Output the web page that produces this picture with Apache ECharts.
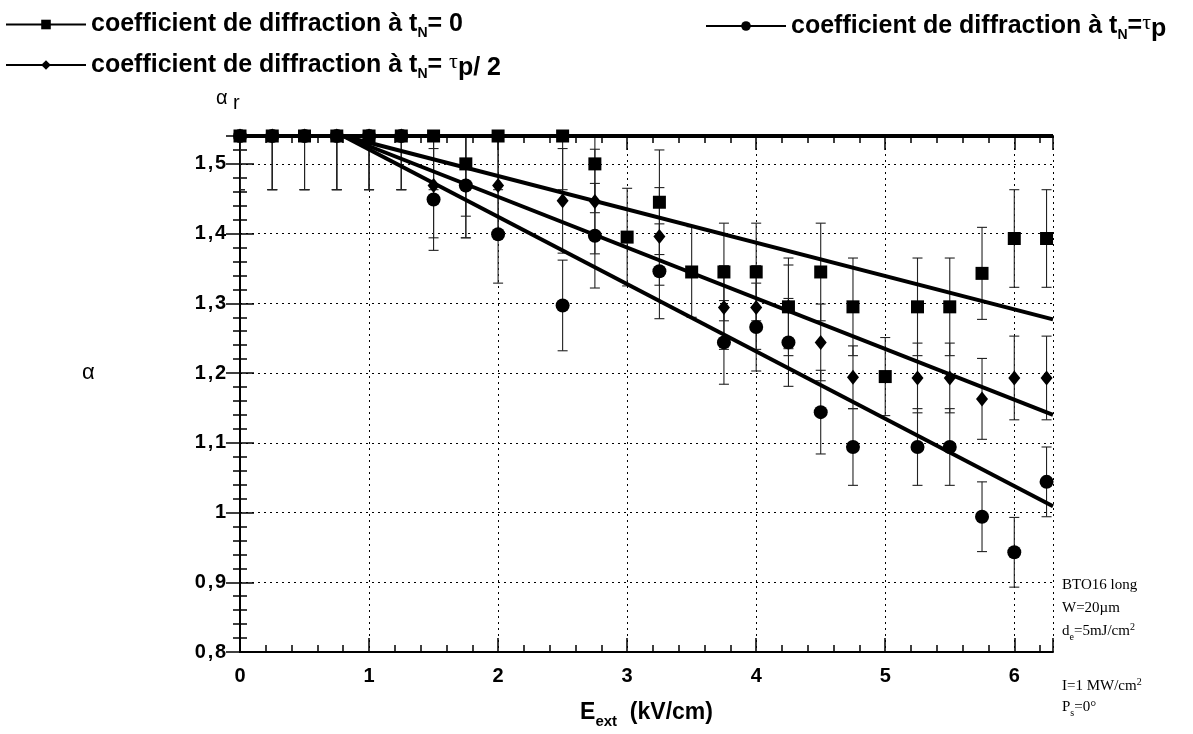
<!DOCTYPE html>
<html>
<head>
<meta charset="utf-8">
<script src="https://cdn.jsdelivr.net/npm/echarts@6/dist/echarts.min.js"></script>
<style>
html,body{margin:0;padding:0;background:#fff;}
#chart{width:1193px;height:734px;}
</style>
</head>
<body>
<div id="chart"></div>
<script>
// ---- data ----
const xs = [0,0.25,0.5,0.75,1,1.25,1.5,1.75,2,2.5,2.75,3,3.25,3.5,3.75,4,4.25,4.5,4.75,5,5.25,5.5,5.75,6,6.25];
// t_N = 0 (squares)
const sqVals = [1.54,1.54,1.54,1.54,1.54,1.54,1.54,1.5,1.54,1.54,1.5,1.395,1.445,1.345,1.345,1.345,1.295,1.345,1.295,1.195,1.295,1.295,1.343,1.393,1.393];
const sqErr  = [0.077,0.077,0.077,0.077,0.077,0.077,0.077,0.075,0.077,0.077,0.07,0.07,0.075,0.065,0.07,0.07,0.07,0.07,0.07,0.056,0.07,0.07,0.066,0.07,0.07];
// t_N = tau_p / 2 (diamonds)
const diVals = [1.54,1.54,1.54,1.54,1.54,1.54,1.469,1.469,1.469,1.447,1.446,null,1.396,null,1.294,1.294,1.295,1.244,1.194,null,1.193,1.193,1.163,1.193,1.193];
const diErr  = [0.077,0.077,0.077,0.077,0.077,0.077,0.075,0.075,0.075,0.075,0.075,null,0.07,null,0.06,0.06,0.06,0.055,0.045,null,0.05,0.05,0.058,0.06,0.06];
// t_N = tau_p (circles)
const ciVals = [1.54,1.54,1.54,1.54,1.54,1.54,1.449,1.469,1.399,1.297,1.397,null,1.346,null,1.244,1.266,1.244,1.144,1.094,null,1.094,1.094,0.994,0.943,1.044];
const ciErr  = [0.077,0.077,0.077,0.077,0.077,0.077,0.073,0.075,0.07,0.065,0.075,null,0.068,null,0.06,0.063,0.063,0.06,0.055,null,0.055,0.055,0.05,0.05,0.05];
// fitted lines
const fitX  = [0.8, 6.3];
const fitSq = [1.54, 1.277];
const fitDi = [1.54, 1.14];
const fitCi = [1.54, 1.009];
const alphaRX = [0, 6.3];
const alphaRY = [1.54, 1.54];
// axes
const xMin = 0, xMax = 6.3, xStep = 1;
const yMin = 0.8, yMax = 1.54, yStep = 0.1;

function pts(vals){ return xs.map((x,i)=> vals[i]==null ? [x,null] : [x, vals[i]]); }
function errPts(vals, errs){ const out=[]; xs.forEach((x,i)=>{ if(vals[i]!=null) out.push([x, vals[i], errs[i]]); }); return out; }
function linePts(xa, ya){ return xa.map((x,i)=>[x, ya[i]]); }

const chart = echarts.init(document.getElementById('chart'), null, {renderer:'canvas'});
const FONT = 'Liberation Sans, Arial, sans-serif';
const SERIF = 'Liberation Serif, Times New Roman, serif';

function errRender(params, api){
  const x = api.value(0), y = api.value(1), e = api.value(2);
  const top = api.coord([x, y+e]);
  const bot = api.coord([x, y-e]);
  const w = 5;
  const st = {stroke:'#222', lineWidth:1.1};
  return {type:'group', children:[
    {type:'line', shape:{x1:top[0], y1:top[1], x2:bot[0], y2:bot[1]}, style:st},
    {type:'line', shape:{x1:top[0]-w, y1:top[1], x2:top[0]+w, y2:top[1]}, style:st},
    {type:'line', shape:{x1:bot[0]-w, y1:bot[1], x2:bot[0]+w, y2:bot[1]}, style:st}
  ]};
}

const richLegend = {
  a:{fontFamily:FONT, fontSize:25, fontWeight:'bold', color:'#000'},
  s:{fontFamily:FONT, fontSize:14, fontWeight:'bold', color:'#000', padding:[18,0,0,0]},
  t:{fontFamily:SERIF, fontSize:22, color:'#000', padding:[0,0,6,0]},
  p:{fontFamily:FONT, fontSize:25, fontWeight:'bold', color:'#000', padding:[6,0,0,0]}
};
const legendNames = {
  'sq': '{a|coefficient de diffraction à t}{s|N}{a|= 0}',
  'ci': '{a|coefficient de diffraction à t}{s|N}{a|=}{t|τ}{p|p}',
  'di': '{a|coefficient de diffraction à t}{s|N}{a|= }{t|τ}{p|p/ 2}'
};
function mkLegend(name, left, top){
  return {data:[name], left:left, top:top, itemWidth:80, itemHeight:12, itemGap:0,
    lineStyle:{color:'#000', width:2, opacity:1},
    itemStyle:{color:'#000'},
    formatter: n => legendNames[n],
    textStyle:{rich:richLegend, padding:[0,0,0,0]},
    selectedMode:false};
}

const yLabel = v => {
  const r = Math.round(v*10);
  if (Math.abs(v*10 - r) > 1e-6) return '';
  let s = (r/10).toFixed(1);
  if (s.endsWith('.0')) s = s.slice(0,-2);
  return s.replace('.', '\u200A,\u200A');
};

const option = {
  backgroundColor:'#fff',
  animation:false,
  legend:[ mkLegend('sq', 0, 7), mkLegend('ci', 700, 7), mkLegend('di', 0, 46) ],
  grid:{left:240, right:140, top:136, bottom:80, containLabel:false},
  xAxis:[{
    type:'value', min:xMin, max:xMax, interval:xStep, position:'bottom',
    name:'{a|E}{s|ext}{a|  (kV/cm)}', nameLocation:'middle', nameGap:44,
    nameTextStyle:{rich:{a:{fontFamily:FONT, fontSize:23, fontWeight:'bold', color:'#000'}, s:{fontFamily:FONT, fontSize:15, fontWeight:'bold', color:'#000', padding:[18,0,0,0]}}},
    axisLine:{show:true, lineStyle:{color:'#000', width:2}},
    axisTick:{show:true, inside:true, length:14, lineStyle:{color:'#000', width:1.5}},
    minorTick:{show:true, splitNumber:5, length:7, lineStyle:{color:'#000', width:1.5}},
    axisLabel:{fontFamily:FONT, fontSize:20, fontWeight:'bold', color:'#000', margin:14,
      formatter: v => Math.abs(v - Math.round(v))<1e-6 ? String(Math.round(v)) : ''},
    splitLine:{show:true, lineStyle:{color:'#000', type:[2,4], width:1}}
  },{
    type:'value', min:xMin, max:xMax, interval:xStep, position:'top',
    axisLine:{show:true, lineStyle:{color:'#000', width:2}},
    axisTick:{show:true, inside:true, length:14, lineStyle:{color:'#000', width:1.5}},
    minorTick:{show:true, splitNumber:5, length:7, lineStyle:{color:'#000', width:1.5}},
    axisLabel:{show:false}, splitLine:{show:false}
  }],
  yAxis:[{
    type:'value', min:yMin, max:yMax, interval:yStep, position:'left',
    axisLine:{show:true, lineStyle:{color:'#000', width:2}},
    axisTick:{show:true, inside:true, length:14, lineStyle:{color:'#000', width:1.5}},
    minorTick:{show:true, splitNumber:5, length:7, lineStyle:{color:'#000', width:1.5}},
    axisLabel:{fontFamily:FONT, fontSize:20, fontWeight:'bold', color:'#000', margin:14, formatter:yLabel},
    splitLine:{show:true, lineStyle:{color:'#000', type:[2,4], width:1}}
  },{
    type:'value', min:yMin, max:yMax, interval:yStep, position:'right',
    axisLine:{show:true, lineStyle:{color:'#000', width:2}},
    axisTick:{show:true, inside:true, length:14, lineStyle:{color:'#000', width:1.5}},
    minorTick:{show:true, splitNumber:5, length:7, lineStyle:{color:'#000', width:1.5}},
    axisLabel:{show:false}, splitLine:{show:false}
  }],
  graphic:[
    {type:'text', left:216, top:88, style:{text:'{a|α}{r| r}', rich:{a:{fontFamily:FONT, fontSize:20, fill:'#000'}, r:{fontFamily:FONT, fontSize:20, fill:'#000', padding:[10,0,0,0]}}}},
    {type:'text', left:82, top:362, style:{text:'α', fontFamily:FONT, fontSize:22, fill:'#000'}},
    {type:'text', left:1062, top:578, style:{
      text:'{n|BTO16 long}\n{n|W=20µm}\n{n|d}{s|e}{n|=5mJ/cm}{u|2}',
      rich:{
        n:{fontFamily:SERIF, fontSize:15, fill:'#000', lineHeight:23},
        s:{fontFamily:SERIF, fontSize:10, fill:'#000', padding:[12,0,0,0], lineHeight:23},
        u:{fontFamily:SERIF, fontSize:10, fill:'#000', padding:[0,0,8,0], lineHeight:23}
      }}},
    {type:'text', left:1062, top:677, style:{
      text:'{n|I=1 MW/cm}{u|2}\n{n|P}{s|s}{n|=0°}',
      rich:{
        n:{fontFamily:SERIF, fontSize:15, fill:'#000', lineHeight:21},
        s:{fontFamily:SERIF, fontSize:10, fill:'#000', padding:[12,0,0,0], lineHeight:21},
        u:{fontFamily:SERIF, fontSize:10, fill:'#000', padding:[0,0,8,0], lineHeight:21}
      }}}
  ],
  series:[
    {name:'eb-ci', type:'custom', renderItem:errRender, data:errPts(ciVals, ciErr), clip:true, z:2, encode:{x:0,y:1}},
    {name:'eb-di', type:'custom', renderItem:errRender, data:errPts(diVals, diErr), clip:true, z:2, encode:{x:0,y:1}},
    {name:'eb-sq', type:'custom', renderItem:errRender, data:errPts(sqVals, sqErr), clip:true, z:2, encode:{x:0,y:1}},
    {name:'ci', type:'line', data:pts(ciVals), symbol:'circle', symbolSize:14, showSymbol:true,
      itemStyle:{color:'#000'}, lineStyle:{opacity:0, width:0}, connectNulls:false, z:3, clip:false},
    {name:'di', type:'line', data:pts(diVals), symbol:'diamond', symbolSize:[12,15], showSymbol:true,
      itemStyle:{color:'#000'}, lineStyle:{opacity:0, width:0}, connectNulls:false, z:4, clip:false},
    {name:'sq', type:'line', data:pts(sqVals), symbol:'rect', symbolSize:13, showSymbol:true,
      itemStyle:{color:'#000'}, lineStyle:{opacity:0, width:0}, connectNulls:false, z:5, clip:false},
    {name:'fit-ar', type:'line', data:linePts(alphaRX, alphaRY), symbol:'none', lineStyle:{color:'#000', width:4}, z:6, silent:true},
    {name:'fit-sq', type:'line', data:linePts(fitX, fitSq), symbol:'none', lineStyle:{color:'#000', width:4}, z:6, silent:true},
    {name:'fit-di', type:'line', data:linePts(fitX, fitDi), symbol:'none', lineStyle:{color:'#000', width:4}, z:6, silent:true},
    {name:'fit-ci', type:'line', data:linePts(fitX, fitCi), symbol:'none', lineStyle:{color:'#000', width:4}, z:6, silent:true}
  ]
};
chart.setOption(option);
</script>
</body>
</html>
